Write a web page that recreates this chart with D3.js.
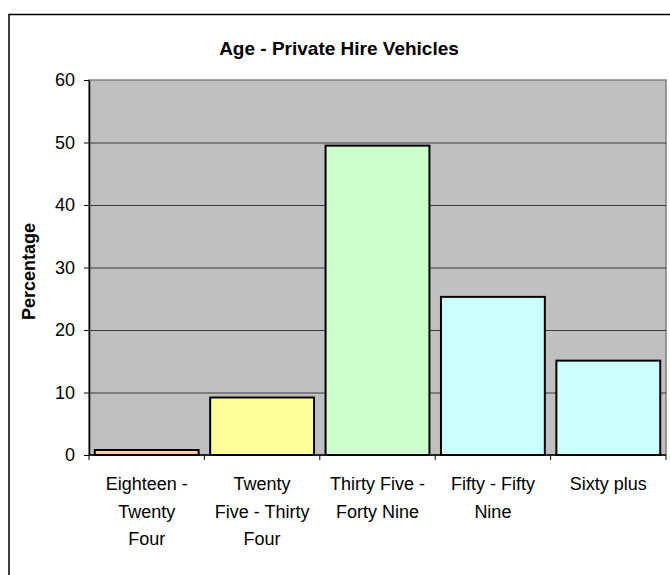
<!DOCTYPE html>
<html>
<head>
<meta charset="utf-8">
<script src="https://cdn.jsdelivr.net/npm/d3@7"></script>
<style>
  body { margin: 0; background: #fff; }
  svg { display: block; font-family: "Liberation Sans", Arial, sans-serif; }
</style>
</head>
<body>
<div id="main"></div>
<script>
const categories = [
  "Eighteen - Twenty Four",
  "Twenty Five - Thirty Four",
  "Thirty Five - Forty Nine",
  "Fifty - Fifty Nine",
  "Sixty plus",
];
const labelLines = [
  ["Eighteen -", "Twenty", "Four"],
  ["Twenty", "Five - Thirty", "Four"],
  ["Thirty Five -", "Forty Nine"],
  ["Fifty - Fifty", "Nine"],
  ["Sixty plus"],
];
const percentages = [0.8, 9.2, 49.5, 25.3, 15.1];
const barColors = ["#ffcc99", "#ffff99", "#ccffcc", "#ccffff", "#ccffff"];
const yTicks = [0, 10, 20, 30, 40, 50, 60];

const width = 670;
const height = 575;
const plot = { left: 89, right: 666, top: 80, bottom: 455 };

const svg = d3.select("#main").append("svg").attr("width", width).attr("height", height);

// chart area border (runs off the right and bottom edges)
svg
  .append("rect")
  .attr("x", 9)
  .attr("y", 14.5)
  .attr("width", 720)
  .attr("height", 620)
  .attr("fill", "#fff")
  .attr("stroke", "#000")
  .attr("stroke-width", 1.5);

const x = d3
  .scaleBand()
  .domain(categories)
  .range([plot.left, plot.right])
  .paddingInner(0.1)
  .paddingOuter(0.05);

const y = d3.scaleLinear().domain([0, 60]).range([plot.bottom, plot.top]);

// plot background
svg
  .append("rect")
  .attr("x", plot.left)
  .attr("y", plot.top)
  .attr("width", plot.right - plot.left)
  .attr("height", plot.bottom - plot.top)
  .attr("fill", "#c0c0c0")
  .attr("stroke", "#808080")
  .attr("stroke-width", 1.5);

// gridlines
const grid = svg
  .append("g")
  .attr("transform", `translate(${plot.left},0)`)
  .call(
    d3.axisLeft(y).tickValues(yTicks.slice(1, -1)).tickSize(-(plot.right - plot.left)).tickFormat("")
  );
grid.select(".domain").remove();
grid.selectAll("line").attr("stroke", "#3a3a3a").attr("stroke-width", 1.2);

// bars
svg
  .append("g")
  .selectAll("rect")
  .data(percentages)
  .enter()
  .append("rect")
  .attr("x", (d, i) => x(categories[i]))
  .attr("y", (d) => y(d))
  .attr("width", x.bandwidth())
  .attr("height", (d) => y(0) - y(d))
  .attr("fill", (d, i) => barColors[i])
  .attr("stroke", "#000")
  .attr("stroke-width", 2);

// y axis
const yAxis = svg
  .append("g")
  .attr("transform", `translate(${plot.left},0)`)
  .call(d3.axisLeft(y).tickValues(yTicks).tickSize(5).tickSizeOuter(0).tickPadding(9));
yAxis.select(".domain").attr("stroke", "#000").attr("stroke-width", 1.5);
yAxis.selectAll("line").attr("stroke", "#000");
yAxis.selectAll("text").style("font-size", "18px").attr("fill", "#000");

// x axis: ticks sit between categories
const half = (x.step() - x.bandwidth()) / 2;
const boundaries = categories.map((c) => x(c) - half).concat([plot.right]);
const xAxis = svg.append("g").attr("transform", `translate(0,${plot.bottom})`);
xAxis
  .append("line")
  .attr("x1", plot.left)
  .attr("x2", plot.right)
  .attr("stroke", "#000")
  .attr("stroke-width", 1.5);
xAxis
  .selectAll(".tick")
  .data(boundaries)
  .enter()
  .append("line")
  .attr("x1", (d) => d)
  .attr("x2", (d) => d)
  .attr("y1", 0)
  .attr("y2", 5)
  .attr("stroke", "#000");

const labels = xAxis
  .selectAll(".cat")
  .data(categories)
  .enter()
  .append("text")
  .attr("text-anchor", "middle")
  .style("font-size", "18px")
  .attr("fill", "#000");
labels.each(function (c, i) {
  d3.select(this)
    .selectAll("tspan")
    .data(labelLines[i])
    .enter()
    .append("tspan")
    .attr("x", x(c) + x.bandwidth() / 2)
    .attr("y", (d, j) => 35 + j * 27.5)
    .text((d) => d);
});

// title
svg
  .append("text")
  .attr("x", 339)
  .attr("y", 55)
  .attr("text-anchor", "middle")
  .style("font-size", "19px")
  .style("font-weight", "bold")
  .text("Age - Private Hire Vehicles");

// y axis title
svg
  .append("text")
  .attr("transform", `translate(35,${(plot.top + plot.bottom) / 2 + 4}) rotate(-90)`)
  .attr("text-anchor", "middle")
  .style("font-size", "18px")
  .style("font-weight", "bold")
  .text("Percentage");
</script>
</body>
</html>
